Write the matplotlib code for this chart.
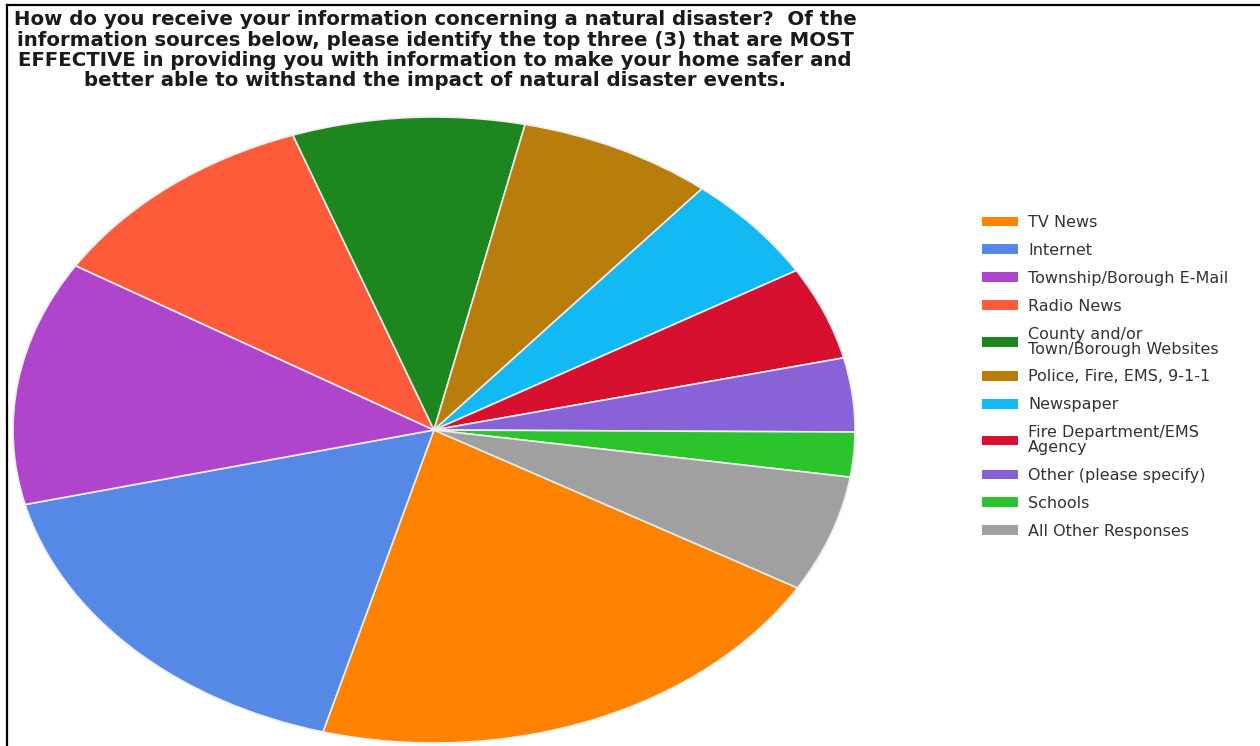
import matplotlib
matplotlib.use("Agg")
import matplotlib.pyplot as plt
from matplotlib.patches import Rectangle
from matplotlib.lines import Line2D

# Survey responses: share of respondents choosing each information source
sources = [
    "TV News",
    "Internet",
    "Township/Borough E-Mail",
    "Radio News",
    "County and/or\nTown/Borough Websites",
    "Police, Fire, EMS, 9-1-1",
    "Newspaper",
    "Fire Department/EMS\nAgency",
    "Other (please specify)",
    "Schools",
    "All Other Responses",
]
shares = [20.8, 16.9, 12.6, 10.75, 8.9, 7.5, 5.5, 4.8, 3.8, 2.3, 6.0]
colors = [
    "#FF8200", "#5689E5", "#B144CC", "#FF5A3A", "#1E861E", "#B97D0C",
    "#12B9F2", "#D7102F", "#8A62D8", "#2CC42C", "#A0A0A0",
]

title = ("How do you receive your information concerning a natural disaster?  Of the\n"
         "information sources below, please identify the top three (3) that are MOST\n"
         "EFFECTIVE in providing you with information to make your home safer and\n"
         "better able to withstand the impact of natural disaster events.")

W, H = 1260, 746
fig = plt.figure(figsize=(W / 100, H / 100), dpi=100)
fig.patch.set_facecolor("white")

# Pie axes: stretched horizontally so the pie reads as a wide ellipse
cx, cy, rx, ry = 434, 430, 421, 313
ax = fig.add_axes([(cx - rx) / W, (H - cy - ry) / H, 2 * rx / W, 2 * ry / H])
wedges, _ = ax.pie(
    shares,
    colors=colors,
    startangle=-30.3,
    counterclock=False,
    wedgeprops=dict(edgecolor="#EDEDED", linewidth=1.2),
)
ax.set_aspect("auto")
ax.set_xlim(-1, 1)
ax.set_ylim(-1, 1)
ax.axis("off")

# Title
fig.text(435 / W, 1 - 10 / H, title, ha="center", va="top",
         fontsize=14.2, fontweight="bold", family="DejaVu Sans",
         color="#1a1a1a", linespacing=1.1)

# Legend
handles = [Rectangle((0, 0), 1, 1, facecolor=c, edgecolor="none") for c in colors]
fs = 11.5
fs_px = fs * 100 / 72
leg = fig.legend(
    handles, sources,
    loc="upper left",
    bbox_to_anchor=(982 / W, 1 - 215 / H),
    frameon=False,
    handlelength=36 / fs_px,
    handleheight=0.55,
    handletextpad=10 / fs_px,
    labelspacing=0.81,
    borderaxespad=0,
    borderpad=0,
    prop=dict(family="DejaVu Sans", size=fs),
)
for t in leg.get_texts():
    t.set_color("#333333")
    t.set_linespacing(0.98)

# Frame lines along the top and left edges
fig.add_artist(Line2D([7 / W, 1.0], [1 - 5 / H, 1 - 5 / H], color="black",
                      linewidth=1.6, transform=fig.transFigure))
fig.add_artist(Line2D([7 / W, 7 / W], [1 - 5 / H, 0.0], color="black",
                      linewidth=1.6, transform=fig.transFigure))

fig.savefig("out.png", dpi=100, facecolor="white")
